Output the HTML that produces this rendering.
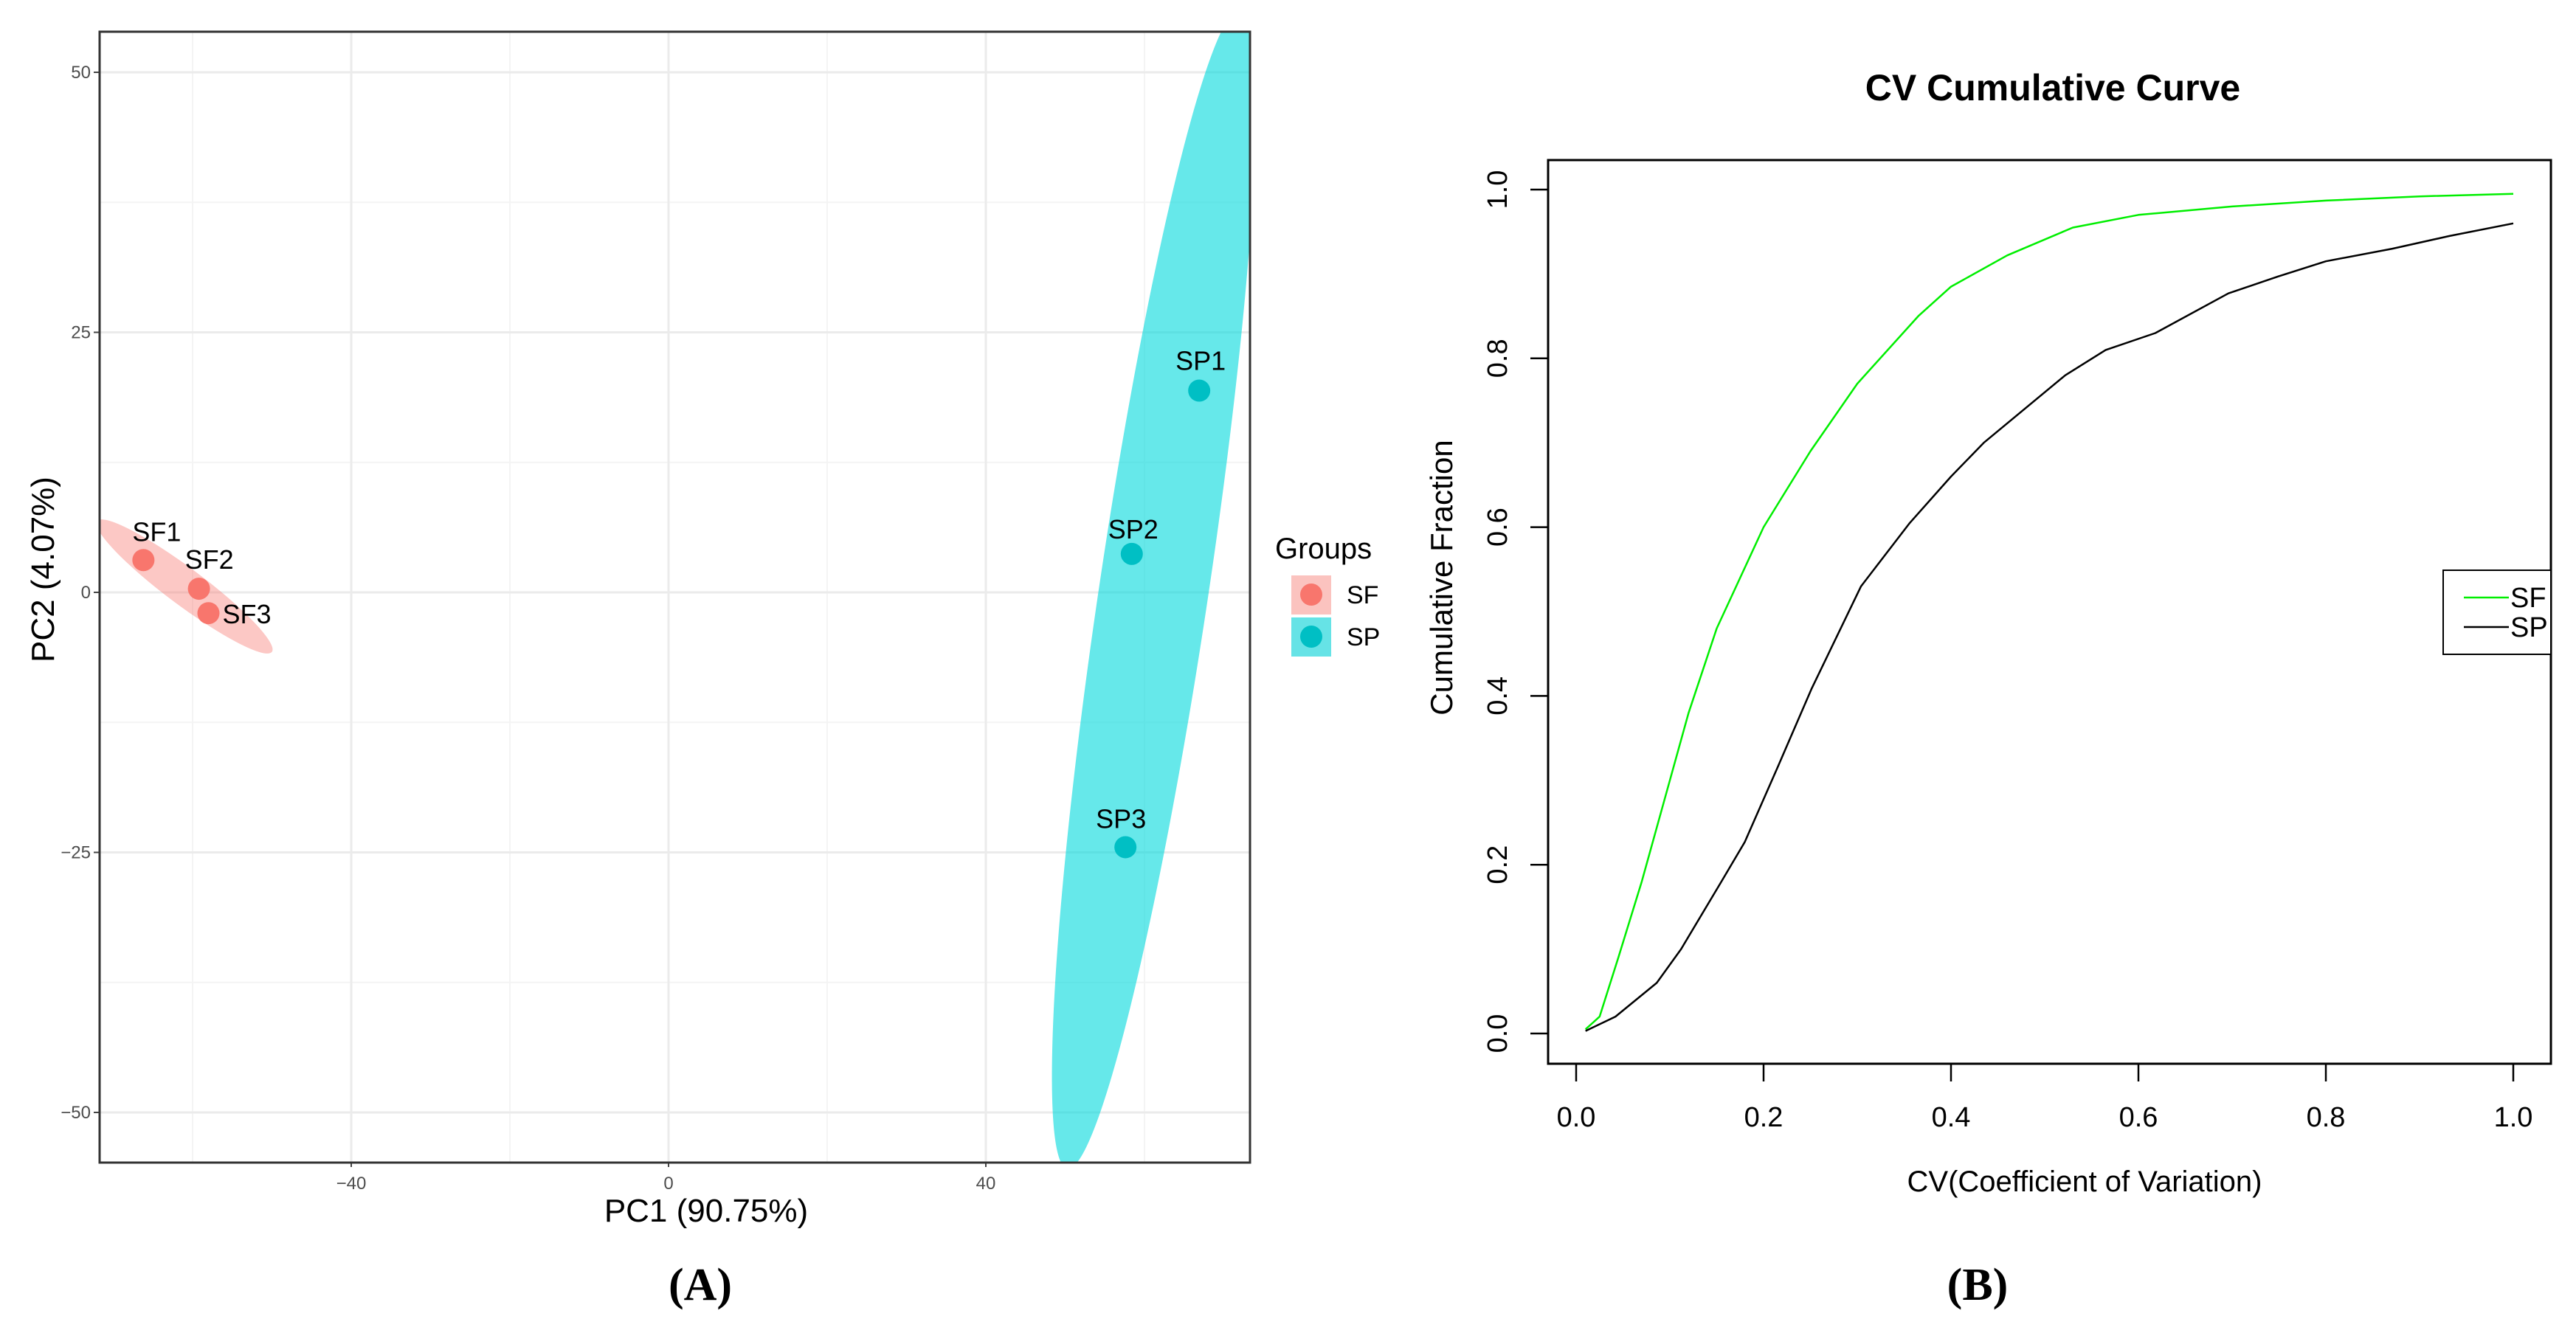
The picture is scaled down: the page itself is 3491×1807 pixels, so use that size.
<!DOCTYPE html>
<html><head><meta charset="utf-8"><style>
html,body{margin:0;padding:0;background:#fff;}
svg{display:block;}
text{font-family:"Liberation Sans",sans-serif;}
</style></head><body>
<svg id="fig" width="3491" height="1807" viewBox="0 0 3491 1807" xmlns="http://www.w3.org/2000/svg">
<defs><clipPath id="clipA"><rect x="135" y="43" width="1559" height="1533"/></clipPath></defs>
<g id="panelA"></g>
<g id="panelB"></g>
<text x="949" y="1762" text-anchor="middle" font-size="62" font-weight="bold" style="font-family:'Liberation Serif',serif">(A)</text>
<text x="2680" y="1762" text-anchor="middle" font-size="62" font-weight="bold" style="font-family:'Liberation Serif',serif">(B)</text>
</svg>
<script>
// ---- Panel A data ----
const sampleNames = ["SF1","SF2","SF3","SP1","SP2","SP3"];
const sampleGroups = ["SF","SF","SF","SP","SP","SP"];
const pc1Values = [-66.2,-59.2,-58.0,66.9,58.4,57.6];
const pc2Values = [3.1,0.35,-2.0,19.4,3.7,-24.5];
const pcaXTicks = [-40,0,40];
const pcaYTicks = [50,25,0,-25,-50];
// ---- Panel B data ----
const sfCV = [0.01,0.025,0.045,0.07,0.09,0.1,0.12,0.15,0.2,0.25,0.3,0.365,0.4,0.46,0.53,0.6,0.7,0.8,0.9,1.0];
const sfFrac = [0.005,0.02,0.09,0.18,0.26,0.3,0.38,0.48,0.6,0.69,0.77,0.85,0.885,0.922,0.955,0.97,0.98,0.987,0.992,0.995];
const spCV = [0.01,0.042,0.086,0.112,0.155,0.18,0.216,0.251,0.304,0.356,0.4,0.435,0.522,0.565,0.618,0.696,0.749,0.8,0.871,0.932,1.0];
const spFrac = [0.003,0.02,0.06,0.10,0.18,0.227,0.318,0.408,0.53,0.605,0.66,0.70,0.78,0.81,0.83,0.877,0.897,0.915,0.93,0.945,0.96];
const cvXTicks = [0.0,0.2,0.4,0.6,0.8,1.0];
const cvYTicks = [0.0,0.2,0.4,0.6,0.8,1.0];

const NS="http://www.w3.org/2000/svg";
function mk(tag, attrs, parent){const e=document.createElementNS(NS,tag);for(const k in attrs)e.setAttribute(k,attrs[k]);parent.appendChild(e);return e;}

// ---- Panel A ----
const A=document.getElementById('panelA');
const ax=v=>906+v*10.75, ay=v=>803-v*14.1;
const L=135,R=1694,T=43,B=1576;
[-60,-20,20,60].forEach(v=>{const l=mk('line',{x1:ax(v),x2:ax(v),y1:T,y2:B,stroke:'#f4f4f4','stroke-width':2},A);

});
[37.5,12.5,-12.5,-37.5].forEach(v=>{const l=mk('line',{x1:L,x2:R,y1:ay(v),y2:ay(v),stroke:'#f4f4f4','stroke-width':2},A);

});
pcaXTicks.forEach(v=>{const l=mk('line',{x1:ax(v),x2:ax(v),y1:T,y2:B,stroke:'#ebebeb','stroke-width':3},A);


const tk=mk('line',{x1:ax(v),x2:ax(v),y1:B,y2:B+6,stroke:'#444','stroke-width':2},A);


const t=mk('text',{x:ax(v),y:B+36,'text-anchor':'middle','font-size':24,fill:'#4d4d4d'},A);t.textContent=v===0?'0':(v<0?'\u2212'+(-v):v);

});
pcaYTicks.forEach(v=>{const l=mk('line',{x1:L,x2:R,y1:ay(v),y2:ay(v),stroke:'#ebebeb','stroke-width':3},A);


const tk=mk('line',{x1:L-8,x2:L,y1:ay(v),y2:ay(v),stroke:'#444','stroke-width':2},A);


const t=mk('text',{x:L-12,y:ay(v)+8,'text-anchor':'end','font-size':24,fill:'#4d4d4d'},A);t.textContent=v===0?'0':(v<0?'\u2212'+(-v):v);

});
const clipG=mk('g',{'clip-path':'url(#clipA)'},A);
const e1=mk('ellipse',{cx:250,cy:795,rx:148,ry:25,fill:'#f8766d','fill-opacity':0.4,transform:'rotate(36.8 250 795)'},clipG);


const e2=mk('ellipse',{cx:1564,cy:798,rx:74,ry:795,fill:'#00d8dc','fill-opacity':0.6,transform:'rotate(8.5 1564 798)'},clipG);


const labelOff={SF1:[18,-39],SF2:[14,-40],SF3:[52,1],SP1:[2,-41],SP2:[2,-34],SP3:[-6,-39]};
sampleNames.forEach((n,i)=>{const cx=ax(pc1Values[i]),cy=ay(pc2Values[i]);
const c=mk('circle',{cx:cx,cy:cy,r:15,fill:sampleGroups[i]==='SF'?'#f8766d':'#00bfc4'},A);


const o=labelOff[n];const t=mk('text',{x:cx+o[0],y:cy+o[1]+13,'text-anchor':'middle','font-size':36,fill:'#000'},A);t.textContent=n;

});
const fr=mk('rect',{x:L,y:T,width:R-L,height:B-T,fill:'none',stroke:'#333','stroke-width':3},A);


let t=mk('text',{x:957,y:1656,'text-anchor':'middle','font-size':44},A);t.textContent='PC1 (90.75%)';


t=mk('text',{x:0,y:0,'text-anchor':'middle','font-size':44,transform:'translate(73 772) rotate(-90)'},A);t.textContent='PC2 (4.07%)';


t=mk('text',{x:1728,y:757,'font-size':40},A);t.textContent='Groups';


[['SF','#f8766d','#fbc3bf',780],['SP','#00bfc4','#66e3e6',837]].forEach(g=>{
const r=mk('rect',{x:1750,y:g[3],width:54,height:53,fill:g[2]},A);


const c=mk('circle',{cx:1777,cy:g[3]+26,r:15,fill:g[1]},A);


const tx=mk('text',{x:1825,y:g[3]+38,'font-size':34},A);tx.textContent=g[0];

});

// ---- Panel B ----
const Bp=document.getElementById('panelB');
const bx=v=>2136+v*1270, by=v=>1401-v*1144;
const bL=2098,bR=3457,bT=217,bB=1442;
t=mk('text',{x:2782,y:136,'text-anchor':'middle','font-size':50,'font-weight':'bold'},Bp);t.textContent='CV Cumulative Curve';


const bf=mk('rect',{x:bL,y:bT,width:bR-bL,height:bB-bT,fill:'none',stroke:'#000','stroke-width':3},Bp);


cvXTicks.forEach(v=>{const l=mk('line',{x1:bx(v),x2:bx(v),y1:bB,y2:bB+24,stroke:'#000','stroke-width':2.5},Bp);


const tx=mk('text',{x:bx(v),y:1527,'text-anchor':'middle','font-size':38},Bp);tx.textContent=v.toFixed(1);

});
cvYTicks.forEach(v=>{const l=mk('line',{x1:bL-24,x2:bL,y1:by(v),y2:by(v),stroke:'#000','stroke-width':2.5},Bp);


const tx=mk('text',{x:0,y:0,'text-anchor':'middle','font-size':38,transform:`translate(2042 ${by(v)}) rotate(-90)`},Bp);tx.textContent=v.toFixed(1);

});
function curve(xs,ys,col,name){const d=xs.map((x,i)=>(i?'L':'M')+bx(x).toFixed(1)+' '+by(ys[i]).toFixed(1)).join(' ');
const p=mk('path',{d:d,fill:'none',stroke:col,'stroke-width':2.5,'stroke-linejoin':'round'},Bp);

}
curve(sfCV,sfFrac,'#00ee00','sf-curve');
curve(spCV,spFrac,'#000','sp-curve');
t=mk('text',{x:2825,y:1615,'text-anchor':'middle','font-size':40},Bp);t.textContent='CV(Coefficient of Variation)';


t=mk('text',{x:0,y:0,'text-anchor':'middle','font-size':42,transform:'translate(1968 783) rotate(-90)'},Bp);t.textContent='Cumulative Fraction';


const lb=mk('rect',{x:3311,y:773,width:146,height:114,fill:'#fff',stroke:'#000','stroke-width':2},Bp);


[['SF','#00ee00',810],['SP','#000',850]].forEach(g=>{
const l=mk('line',{x1:3339,x2:3400,y1:g[2],y2:g[2],stroke:g[1],'stroke-width':2.5},Bp);


const tx=mk('text',{x:3402,y:g[2]+13,'font-size':38},Bp);tx.textContent=g[0];

});
</script>
</body></html>
